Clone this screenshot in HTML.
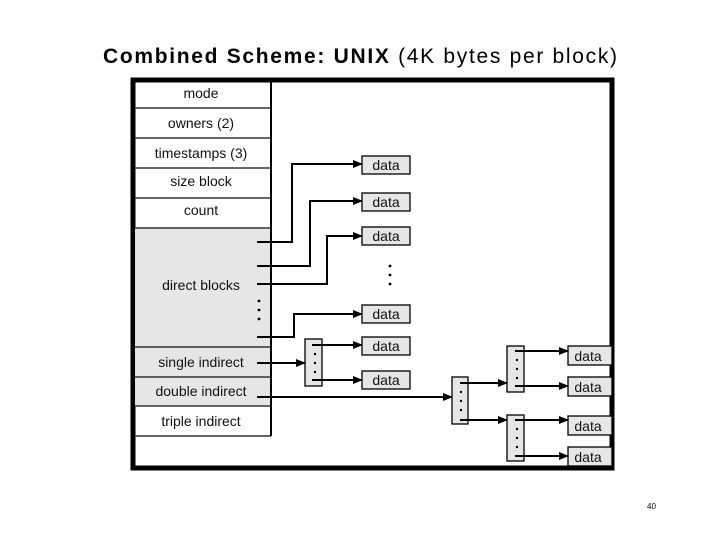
<!DOCTYPE html>
<html><head><meta charset="utf-8"><style>
html,body{margin:0;padding:0;background:#fff;width:720px;height:540px;overflow:hidden}
svg{display:block}
text{font-family:"Liberation Sans",Arial,sans-serif}
</style></head><body>
<svg width="720" height="540" viewBox="0 0 720 540">
<defs><marker id="a" markerWidth="10" markerHeight="8" refX="9" refY="4" orient="auto" markerUnits="userSpaceOnUse"><path d="M0,0 L10,4 L0,8 z" fill="#000"/></marker></defs>
<text x="103" y="63" font-size="21" fill="#000" textLength="514" lengthAdjust="spacing"><tspan font-weight="bold">Combined Scheme:  UNIX</tspan> (4K bytes per block)</text>
<rect x="133" y="80" width="479" height="388" fill="#fff" stroke="#000" stroke-width="5"/>
<rect x="135" y="228" width="136" height="178" fill="#e6e6e6"/>
<g stroke="#333" stroke-width="1.5" fill="none">
<line x1="135" y1="108" x2="271" y2="108"/><line x1="135" y1="138" x2="271" y2="138"/>
<line x1="135" y1="168" x2="271" y2="168"/><line x1="135" y1="198" x2="271" y2="198"/>
<line x1="135" y1="228" x2="271" y2="228"/><line x1="135" y1="347" x2="271" y2="347"/>
<line x1="135" y1="377" x2="271" y2="377"/><line x1="135" y1="406" x2="271" y2="406"/>
<line x1="135" y1="436" x2="271" y2="436"/>
</g>
<line x1="271" y1="80" x2="271" y2="436" stroke="#000" stroke-width="2"/>
<g font-size="14" text-anchor="middle" fill="#111">
<text x="201" y="98">mode</text><text x="201" y="128">owners (2)</text>
<text x="201" y="158">timestamps (3)</text><text x="201" y="186">size block</text>
<text x="201" y="215">count</text><text x="201" y="290">direct blocks</text>
<text x="201" y="367">single indirect</text><text x="201" y="396">double indirect</text>
<text x="201" y="426">triple indirect</text>
</g>
<g fill="#e6e6e6" stroke="#000" stroke-width="1.3">
<rect x="362" y="156" width="48" height="18"/><rect x="362" y="193" width="48" height="18"/>
<rect x="362" y="227" width="48" height="18"/><rect x="362" y="305" width="48" height="18"/>
<rect x="362" y="337" width="48" height="18"/><rect x="362" y="371" width="48" height="18"/>
<rect x="568" y="346" width="44" height="19"/><rect x="568" y="377" width="44" height="19"/>
<rect x="568" y="416" width="44" height="19"/><rect x="568" y="447" width="44" height="19"/>
<rect x="305" y="339" width="17" height="47"/><rect x="452" y="377" width="16" height="47"/>
<rect x="507" y="346" width="17" height="46"/><rect x="507" y="415" width="17" height="46"/>
</g>
<g font-size="14" fill="#111" text-anchor="middle">
<text x="386" y="170">data</text><text x="386" y="207">data</text><text x="386" y="241">data</text>
<text x="386" y="319">data</text><text x="386" y="351">data</text><text x="386" y="385">data</text>
<text x="588" y="361">data</text><text x="588" y="392">data</text>
<text x="588" y="431">data</text><text x="588" y="462">data</text>
</g>
<g stroke="#000" stroke-width="2" fill="none" marker-end="url(#a)">
<polyline points="257,242 292,242 292,164 362,164"/>
<polyline points="257,266 310,266 310,201 362,201"/>
<polyline points="257,284 327,284 327,236 362,236"/>
<polyline points="257,337 294,337 294,314 362,314"/>
<polyline points="257,363 305,363"/>
<polyline points="312,345 362,345"/>
<polyline points="312,380 362,380"/>
<polyline points="257,397 452,397"/>
<polyline points="460,383 507,383"/>
<polyline points="460,420 507,420"/>
<polyline points="515,351 568,351"/>
<polyline points="515,386 568,386"/>
<polyline points="515,420 568,420"/>
<polyline points="515,456 568,456"/>
</g>
<g fill="#000">
<circle cx="390" cy="266" r="1.4"/><circle cx="390" cy="275" r="1.4"/><circle cx="390" cy="284" r="1.4"/>
<circle cx="259" cy="301" r="1.4"/><circle cx="259" cy="310" r="1.4"/><circle cx="259" cy="319" r="1.4"/>
<circle cx="315" cy="354" r="1.2"/><circle cx="315" cy="363" r="1.2"/><circle cx="315" cy="372" r="1.2"/>
<circle cx="461" cy="392" r="1.2"/><circle cx="461" cy="401" r="1.2"/><circle cx="461" cy="410" r="1.2"/>
<circle cx="517" cy="360" r="1.2"/><circle cx="517" cy="369" r="1.2"/><circle cx="517" cy="378" r="1.2"/>
<circle cx="517" cy="429" r="1.2"/><circle cx="517" cy="438" r="1.2"/><circle cx="517" cy="447" r="1.2"/>
</g>
<text x="647" y="509" font-size="8" fill="#000">40</text>
</svg>
</body></html>
